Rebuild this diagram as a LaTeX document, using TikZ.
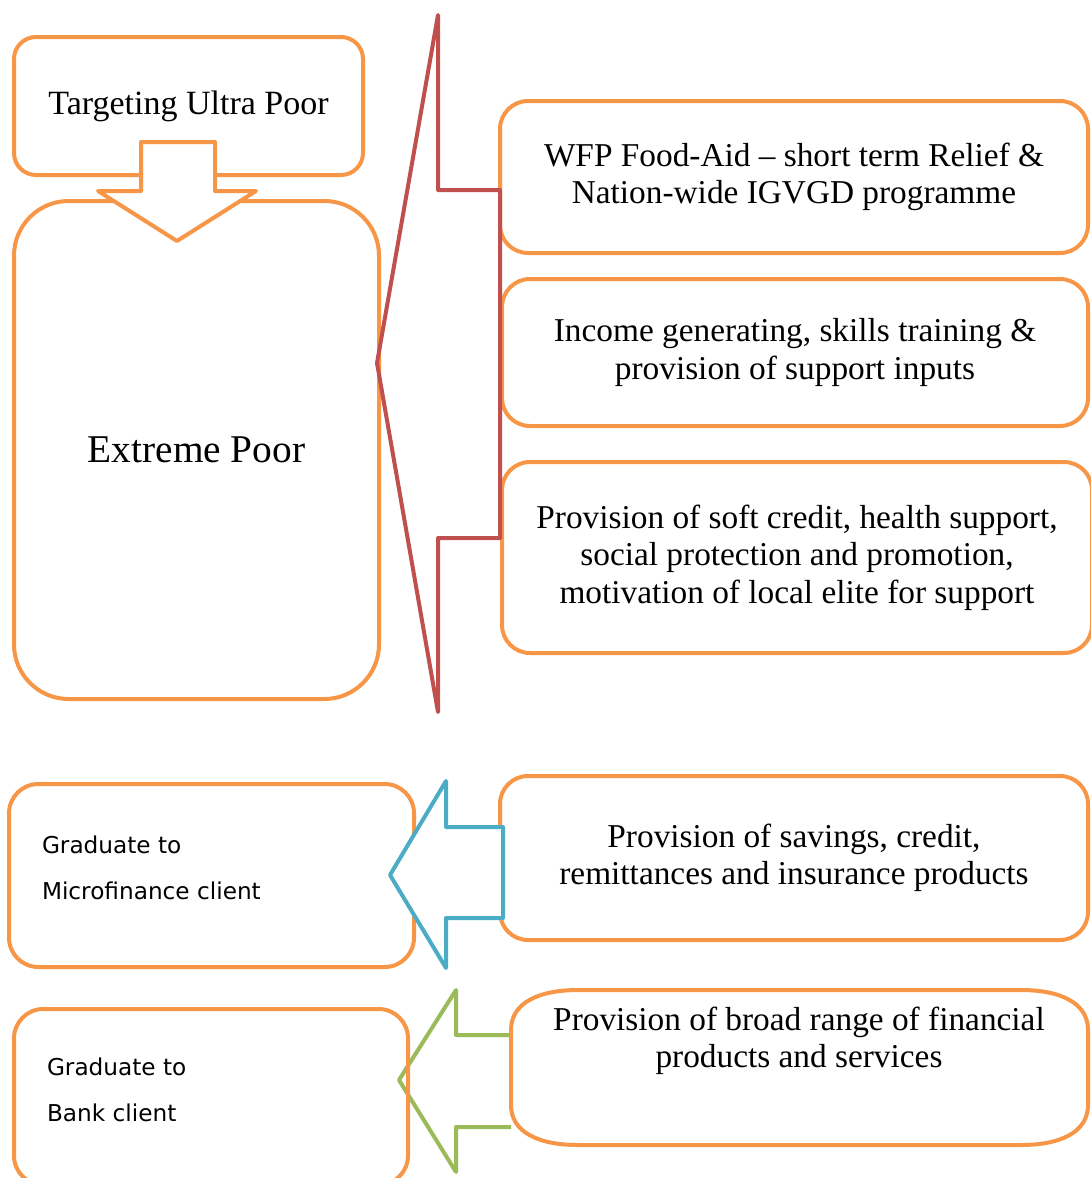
\documentclass[tikz,border=0pt]{standalone}
\usepackage{fontspec}
\setmainfont{Liberation Serif}
\newfontfamily\gradfont{DejaVu Sans}
\usepackage{tikz}
\usetikzlibrary{calc}

\definecolor{boxorange}{HTML}{F79646}
\definecolor{braceRed}{HTML}{C0504D}
\definecolor{arrowBlue}{HTML}{4BACC6}
\definecolor{arrowGreen}{HTML}{9BBB59}

\begin{document}
\begin{tikzpicture}[
    x=0.75pt, y=-0.75pt,
    line width=3pt, line join=round,
    box/.style={draw=boxorange, rectangle, rounded corners=21pt, inner sep=0pt, align=center,
                font=\fontsize{25}{28}\selectfont},
    bigbox/.style={box, rounded corners=41pt, font=\fontsize{29.5}{34}\selectfont},
    gradbox/.style={draw=boxorange, rectangle, rounded corners=22pt, inner sep=0pt},
    gradtext/.style={align=left, anchor=west, inner sep=0pt, font=\gradfont\fontsize{17.4}{34.5}\selectfont},
    plaintext/.style={align=center, inner sep=0pt, font=\fontsize{25}{28}\selectfont}
]
    \useasboundingbox (0,0) rectangle (1090,1178);

    % ================= EXTREME POOR =================
    \node[box, rounded corners=16.5pt, minimum width=261.75pt, minimum height=103.5pt,
          font=\fontsize{25.5}{28}\selectfont] (target) at (188.5,106) {Targeting Ultra Poor};
    \node[bigbox, minimum width=273.75pt, minimum height=373.5pt] (extreme) at (196.5,450) {Extreme Poor};

    % down arrow between the two
    \draw[boxorange, fill=white] (141,142) -- (215,142) -- (215,191) -- (256,191) -- (177,241)
        -- (98,191) -- (141,191) -- cycle;

    % ================= SUPPORT PACKAGE =================
    \node[box, minimum width=441pt, minimum height=114pt] (wfp) at (794,177)
        {WFP Food-Aid -- short term Relief \&\\Nation-wide IGVGD programme};
    \node[box, minimum width=439.5pt, minimum height=110.25pt] (income) at (795,352.5)
        {Income generating, skills training \&\\provision of support inputs};
    \node[box, minimum width=442.5pt, minimum height=143.25pt] (credit) at (797,557.5)
        {Provision of soft credit, health support,\\social protection and promotion,\\motivation of local elite for support};

    % bracket joining the packages to the extreme poor
    \draw[braceRed] (438,15) -- (438,190) -- (500,190) -- (500,538) -- (438,538) -- (438,712)
        -- (377,363) -- cycle;

    % ================= MICROFINANCE =================
    \node[gradbox, minimum width=303.75pt, minimum height=137.25pt] (micro) at (211.5,875.5) {};
    \node[gradtext] (microtxt) at (40,868) {Graduate to\\Microfinance client};
    \node[box, minimum width=441pt, minimum height=123pt] (savings) at (794,858)
        {Provision of savings, credit,\\remittances and insurance products};

    \draw[arrowBlue, fill=white] (390,875) -- (446,781) -- (446,827) -- (503,827) -- (503,918)
        -- (446,918) -- (446,968) -- cycle;

    % ================= BANK =================
    \draw[arrowGreen] (511,1035) -- (456,1035) -- (456,990) -- (399,1080) -- (456,1172)
        -- (456,1127) -- (511,1127);

    \node[gradbox, minimum width=295.5pt, minimum height=132pt] (bank) at (211,1097) {};
    \node[gradtext] (banktxt) at (45,1090) {Graduate to\\Bank client};

    \node[plaintext] (broad) at (799,1041) {Provision of broad range of financial\\products and services};
    \draw[boxorange] (511,1030) .. controls (511,1002) and (540,990) .. (578,990) -- (1021,990)
        .. controls (1059,990) and (1088,1002) .. (1088,1030) -- (1088,1105)
        .. controls (1088,1133) and (1059,1145) .. (1021,1145) -- (578,1145)
        .. controls (540,1145) and (511,1133) .. (511,1105) -- cycle;

\end{tikzpicture}
\end{document}
